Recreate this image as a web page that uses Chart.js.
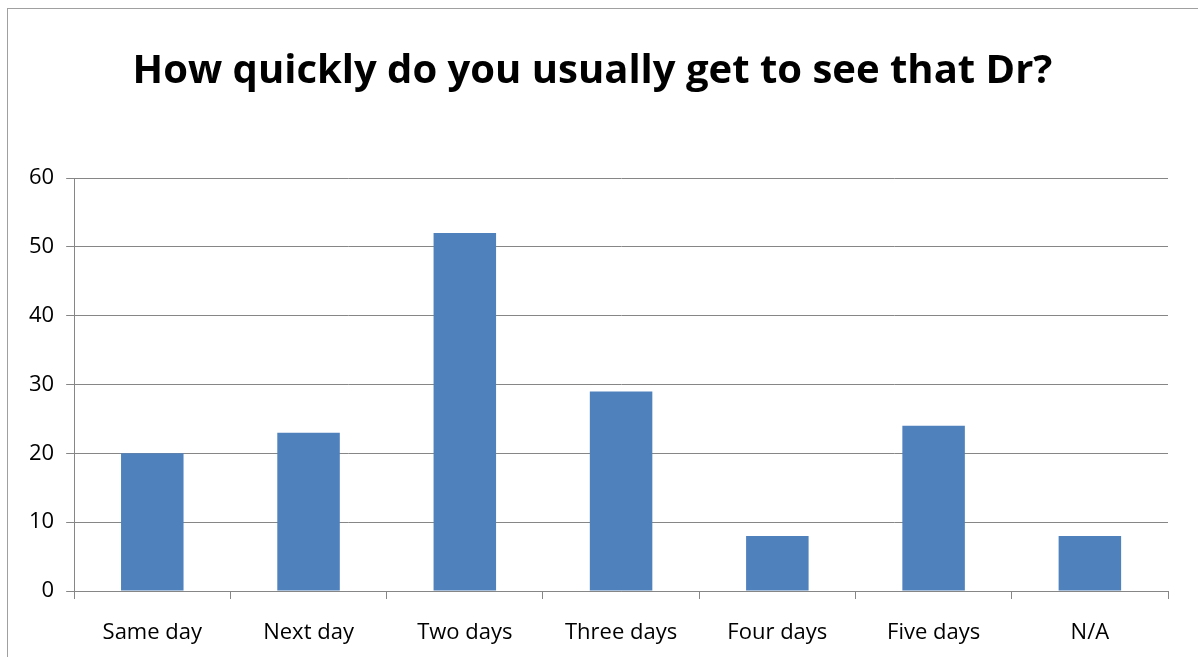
<!DOCTYPE html>
<html>
<head>
<meta charset="utf-8">
<script src="https://cdn.jsdelivr.net/npm/chart.js@4"></script>
<style>
  html, body { margin: 0; padding: 0; background: #fff; overflow: hidden; }
  #wrap { position: relative; width: 1198px; height: 657px; }
  #frame { position: absolute; left: 7px; top: 8px; width: 1200px; height: 700px; border: 1px solid #a0a0a0; box-sizing: border-box; }
  canvas { position: absolute; left: 0; top: 0; }
</style>
</head>
<body>
<div id="wrap">
  <div id="frame"></div>
  <canvas id="myChart" width="1198" height="657"></canvas>
</div>
<script>
// data
var categories = ["Same day", "Next day", "Two days", "Three days", "Four days", "Five days", "N/A"];
var responses = [20, 23, 52, 29, 8, 24, 8];
var yTicks = [0, 10, 20, 30, 40, 50, 60];

var ctx = document.getElementById('myChart');

var myChart = new Chart(ctx, {
    type: 'bar',
    data: {
        labels: categories,
        datasets: [{
            label: 'Responses',
            data: responses,
            backgroundColor: '#4F81BD',
            borderWidth: 0,
            categoryPercentage: 0.4,
            barPercentage: 1.0
        }]
    },
    options: {
        responsive: false,
        animation: false,
        layout: {
            padding: { left: 17, right: 30, top: 10, bottom: 0 }
        },
        plugins: {
            legend: { display: false },
            tooltip: { enabled: false },
            title: {
                display: true,
                text: 'How quickly do you usually get to see that Dr?',
                color: '#000',
                font: { family: 'Open Sans', size: 40, weight: 'bold' },
                padding: { top: 38, bottom: 82 }
            }
        },
        scales: {
            x: {
                grid: {
                    offset: true,
                    drawOnChartArea: false,
                    color: '#868686',
                    tickLength: 8
                },
                border: { color: '#868686' },
                ticks: {
                    color: '#000',
                    font: { family: 'Open Sans', size: 22 },
                    padding: 21,
                    maxRotation: 0
                },
                afterFit: function (scale) {
                    scale.height = 66;
                }
            },
            y: {
                min: 0,
                max: 60,
                afterBuildTicks: function (axis) {
                    axis.ticks = yTicks.map(function (v) { return { value: v }; });
                },
                grid: {
                    color: '#868686',
                    tickLength: 8
                },
                border: { color: '#868686' },
                ticks: {
                    color: '#000',
                    font: { family: 'Open Sans', size: 22 },
                    padding: 12
                }
            }
        }
    }
});
</script>
</body>
</html>
